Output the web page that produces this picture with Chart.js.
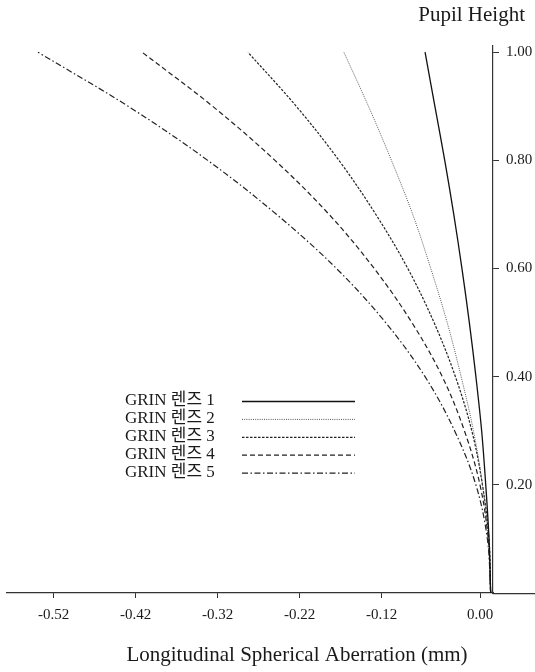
<!DOCTYPE html>
<html>
<head>
<meta charset="utf-8">
<script src="https://cdn.jsdelivr.net/npm/chart.js@4/dist/chart.umd.min.js"></script>
<style>
  html, body { margin: 0; padding: 0; background: #fff; }
  #wrap { width: 535px; height: 672px; }
</style>
</head>
<body>
<div id="wrap"><canvas id="c"></canvas></div>
<script>
// Relative pupil height (y) and longitudinal spherical aberration in mm (x)
const pupilHeight = [0.00, 0.10, 0.20, 0.30, 0.40, 0.50, 0.60, 0.70, 0.80, 0.90, 1.00];
const lens1 = [0.013, 0.011, 0.007, 0.002, -0.005, -0.013, -0.022, -0.032, -0.043, -0.055, -0.067];
const lens2 = [0.013, 0.010, 0.003, -0.008, -0.023, -0.040, -0.060, -0.082, -0.108, -0.136, -0.166];
const lens3 = [0.013, 0.011, 0.003, -0.010, -0.030, -0.056, -0.088, -0.127, -0.172, -0.224, -0.283];
const lens4 = [0.013, 0.010, 0.000, -0.019, -0.046, -0.083, -0.129, -0.184, -0.250, -0.326, -0.412];
const lens5 = [0.013, 0.009, -0.005, -0.031, -0.067, -0.115, -0.175, -0.248, -0.332, -0.429, -0.539];

const seriesLabels = ['GRIN 렌즈 1', 'GRIN 렌즈 2', 'GRIN 렌즈 3', 'GRIN 렌즈 4', 'GRIN 렌즈 5'];
const xTickValues = [-0.52, -0.42, -0.32, -0.22, -0.12, 0.00];
const yTickValues = [0.20, 0.40, 0.60, 0.80, 1.00];
const xAxisTitle = 'Longitudinal Spherical Aberration (mm)';
const yAxisTitle = 'Pupil Height';

const serif = "'Liberation Serif', 'Times New Roman', 'Noto Sans CJK KR', serif";
const ink = '#1a1a1a';

const lineStyles = [
  { borderColor: '#111', borderWidth: 1.3, borderDash: [] },
  { borderColor: '#555', borderWidth: 1.0, borderDash: [1, 1.2] },
  { borderColor: '#222', borderWidth: 1.2, borderDash: [2.5, 1.5] },
  { borderColor: '#222', borderWidth: 1.2, borderDash: [5, 3] },
  { borderColor: '#222', borderWidth: 1.2, borderDash: [6, 2.5, 1.5, 2.5] }
];

const seriesValues = [lens1, lens2, lens3, lens4, lens5];
const datasets = seriesValues.map((vals, i) => Object.assign({
  label: seriesLabels[i],
  data: vals.map((v, k) => ({ x: v, y: pupilHeight[k] })),
  showLine: true,
  pointRadius: 0,
  tension: 0.35,
  fill: false,
  clip: false
}, lineStyles[i]));

// Legend drawn inside the plot: label text on the left, line sample on the right
const innerLegend = {
  id: 'innerLegend',
  afterDatasetsDraw(chart) {
    const ctx = chart.ctx;
    ctx.save();
    ctx.font = '17px ' + serif;
    ctx.fillStyle = ink;
    ctx.textBaseline = 'middle';
    ctx.textAlign = 'left';
    chart.data.datasets.forEach((ds, i) => {
      const y = 401 + i * 17.9;
      ctx.fillText(ds.label, 125, y);
      ctx.beginPath();
      ctx.setLineDash(ds.borderDash || []);
      ctx.strokeStyle = ds.borderColor;
      ctx.lineWidth = ds.borderWidth;
      ctx.moveTo(242, y + 0.5);
      ctx.lineTo(355, y + 0.5);
      ctx.stroke();
    });
    ctx.restore();
  }
};

// Axis line runs on past the vertical axis to the right edge; x-axis caption below the labels
const axisExtras = {
  id: 'axisExtras',
  afterLayout(chart) {
    if (chart.titleBlock) chart.titleBlock.right = chart.width - 10;
  },
  afterDraw(chart) {
    const xs = chart.scales.x;
    const ctx = chart.ctx;
    ctx.save();
    ctx.strokeStyle = '#333';
    ctx.lineWidth = 1.2;
    ctx.beginPath();
    ctx.moveTo(xs.right, xs.top + 0.6);
    ctx.lineTo(chart.width, xs.top + 0.6);
    ctx.stroke();
    ctx.font = '21px ' + serif;
    ctx.fillStyle = ink;
    ctx.textAlign = 'center';
    ctx.textBaseline = 'middle';
    ctx.fillText(xAxisTitle, 297, 655);
    ctx.restore();
  }
};

new Chart(document.getElementById('c'), {
  type: 'scatter',
  data: { datasets },
  plugins: [innerLegend, axisExtras],
  options: {
    responsive: true,
    maintainAspectRatio: false,
    animation: false,
    layout: { padding: { left: 7, right: 0, top: 0, bottom: 0 } },
    plugins: {
      legend: { display: false },
      tooltip: { enabled: false },
      title: {
        display: true,
        text: yAxisTitle,
        align: 'end',
        color: ink,
        font: { family: serif, size: 21, weight: 'normal' },
        padding: { top: 3, bottom: 17 }
      }
    },
    scales: {
      x: {
        type: 'linear',
        min: -0.5768,
        max: 0.01585,
        afterBuildTicks: (s) => { s.ticks = xTickValues.map(v => ({ value: v })); },
        afterFit: (s) => { s.height = 79; },
        grid: { drawOnChartArea: false, drawTicks: true, tickLength: 5, color: '#333', lineWidth: 1 },
        border: { display: true, color: '#333', width: 1.2 },
        ticks: {
          color: ink,
          font: { family: serif, size: 15 },
          padding: 8,
          maxRotation: 0,
          autoSkip: false,
          callback: (v) => Number(v).toFixed(2)
        }
      },
      y: {
        type: 'linear',
        position: 'right',
        min: 0,
        max: 1.013,
        afterBuildTicks: (s) => { s.ticks = yTickValues.map(v => ({ value: v })); },
        afterFit: (s) => { s.width = 42; },
        grid: { drawOnChartArea: false, drawTicks: true, tickLength: 6, color: '#333', lineWidth: 1 },
        border: { display: true, color: '#333', width: 1.2 },
        ticks: {
          color: ink,
          font: { family: serif, size: 15 },
          padding: 7,
          callback: (v) => Number(v).toFixed(2)
        }
      }
    }
  }
});
</script>
</body>
</html>
